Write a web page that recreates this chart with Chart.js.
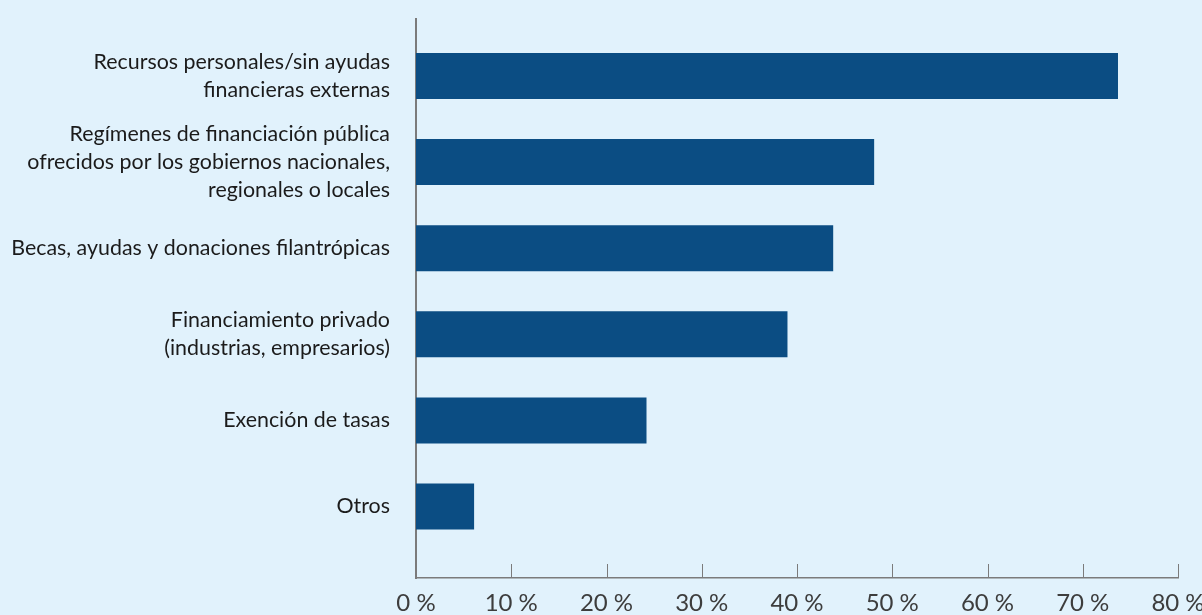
<!DOCTYPE html>
<html lang="es">
<head>
<meta charset="utf-8">
<title>Fuentes de financiación</title>
<script src="https://cdn.jsdelivr.net/npm/chart.js@4.4.1/dist/chart.umd.min.js"></script>
<style>
  html, body { margin: 0; padding: 0; background: #e1f2fc; }
  canvas { display: block; }
</style>
</head>
<body>
<canvas id="chart" width="1202" height="615"></canvas>
<script>
// Funding sources (share of respondents, %)
const categories = [
  ['Recursos personales/sin ayudas', 'financieras externas'],
  ['Regímenes de financiación pública', 'ofrecidos por los gobiernos nacionales,', 'regionales o locales'],
  ['Becas, ayudas y donaciones filantrópicas'],
  ['Financiamiento privado', '(industrias, empresarios)'],
  ['Exención de tasas'],
  ['Otros']
];
const shares = [73.7, 48.1, 43.8, 39.0, 24.2, 6.1];
const xTickValues = [0, 10, 20, 30, 40, 50, 60, 70, 80];
const xTickLabels = ['0 %', '10 %', '20 %', '30 %', '40 %', '50 %', '60 %', '70 %', '80 %'];

const AXIS_GREY = '#7b7b7b';
const BAR_BLUE = '#0b4d83';
const FONT_FAMILY = "Lato, 'Liberation Sans', sans-serif";

// Short tick marks pointing up from the value axis
const upwardTicks = {
  id: 'upwardTicks',
  afterDraw(chart) {
    const { ctx, chartArea, scales: { x } } = chart;
    ctx.save();
    ctx.strokeStyle = AXIS_GREY;
    ctx.lineWidth = 1;
    x.ticks.forEach(t => {
      if (t.value === 0) return;
      const px = Math.round(x.getPixelForValue(t.value)) + 0.5;
      ctx.beginPath();
      ctx.moveTo(px, chartArea.bottom);
      ctx.lineTo(px, chartArea.bottom - 14);
      ctx.stroke();
    });
    ctx.restore();
  }
};

new Chart(document.getElementById('chart'), {
  type: 'bar',
  data: {
    datasets: [{
      data: shares.map((v, i) => ({ x: v, y: i })),
      backgroundColor: BAR_BLUE,
      borderWidth: 0,
      categoryPercentage: 1,
      barPercentage: 0.534
    }]
  },
  options: {
    indexAxis: 'y',
    responsive: false,
    animation: false,
    layout: { padding: { top: 19, right: 24, bottom: 0, left: 0 } },
    plugins: { legend: { display: false }, tooltip: { enabled: false } },
    scales: {
      y: {
        type: 'linear',
        reverse: true,
        offset: false,
        min: -0.662,
        max: 5.83,
        afterBuildTicks: s => { s.ticks = categories.map((_, i) => ({ value: i })); },
        ticks: {
          autoSkip: false,
          padding: 26,
          color: '#1b1b1b',
          font: { family: FONT_FAMILY, size: 21.4, lineHeight: 1.33 },
          callback: v => categories[v]
        },
        grid: { display: false, drawTicks: false, offset: false },
        border: { display: true, color: AXIS_GREY, width: 2 },
        afterFit: s => { s.width = 416; s.paddingTop = 0; s.paddingBottom = 0; }
      },
      x: {
        type: 'linear',
        position: 'bottom',
        min: 0,
        max: 80,
        afterBuildTicks: s => { s.ticks = xTickValues.map(v => ({ value: v })); },
        ticks: {
          autoSkip: false,
          maxRotation: 0,
          padding: 13,
          color: '#3d3d3d',
          font: { family: FONT_FAMILY, size: 24, lineHeight: 1 },
          callback: (v, i) => xTickLabels[i]
        },
        grid: { display: false, drawTicks: false },
        border: { display: true, color: AXIS_GREY, width: 1.5 },
        afterFit: s => { s.height = 37; s.paddingLeft = 0; s.paddingRight = 0; }
      }
    }
  },
  plugins: [upwardTicks]
});
</script>
</body>
</html>
